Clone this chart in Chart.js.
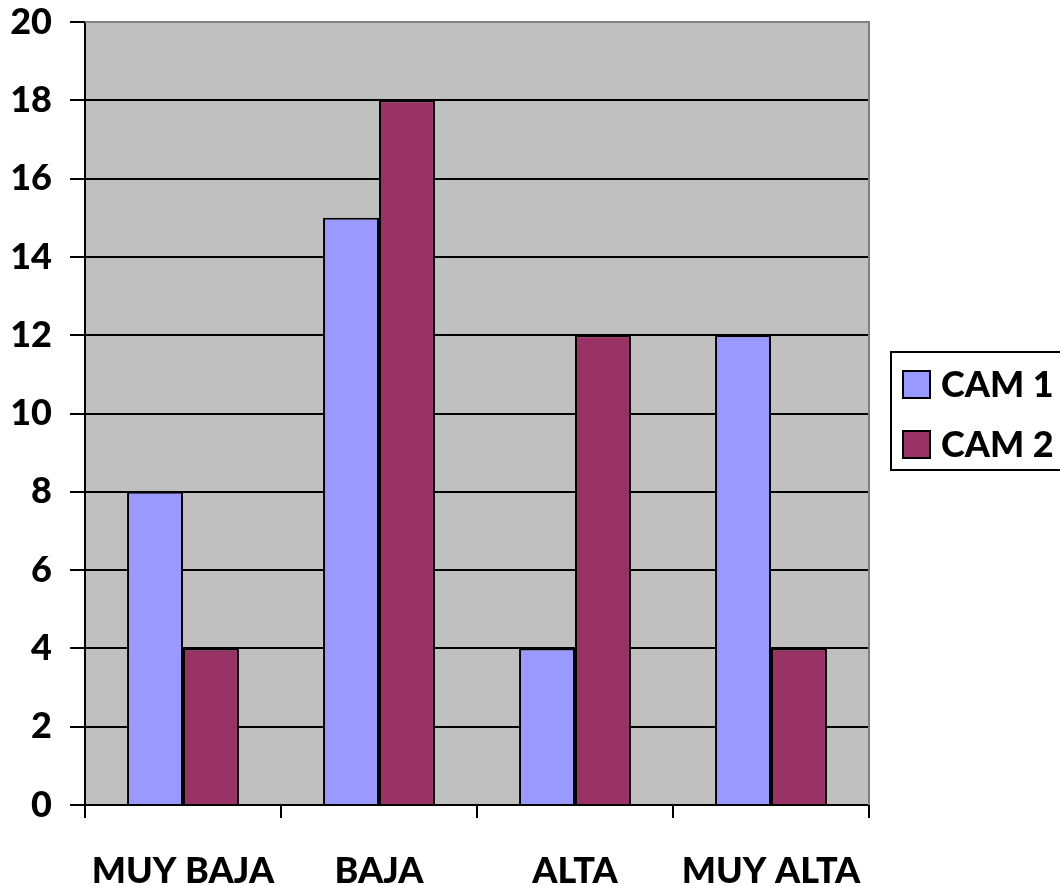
<!DOCTYPE html>
<html>
<head>
<meta charset="utf-8">
<script src="https://cdn.jsdelivr.net/npm/chart.js@4.4.0/dist/chart.umd.min.js"></script>
<style>
  html,body{margin:0;padding:0;background:#fff;}
  #wrap{width:1060px;height:886px;position:relative;}
</style>
</head>
<body>
<div id="wrap"><canvas id="chart" width="1060" height="886"></canvas></div>
<script>
const categories = ["MUY BAJA","BAJA","ALTA","MUY ALTA"];
const seriesNames = ["CAM 1","CAM 2"];
const cam1 = [8,15,4,12];
const cam2 = [4,18,12,4];
const yTicks = [0,2,4,6,8,10,12,14,16,18,20];

const colors = ["#9999FF","#993366"];
const FONT = {family:"Lato, 'Open Sans', sans-serif", size:36, weight:"900"};

// gray plot background + gray top/right frame
const plotBg = {
  id:"plotBg",
  beforeDraw(chart){
    const {ctx, chartArea:a} = chart;
    ctx.save();
    ctx.fillStyle = "#C0C0C0";
    ctx.fillRect(a.left, a.top, a.right-a.left, a.bottom-a.top);
    ctx.restore();
  },
  afterDatasetsDraw(chart){
    const {ctx, chartArea:a} = chart;
    ctx.save();
    ctx.strokeStyle = "#808080"; ctx.lineWidth = 2;
    ctx.beginPath();
    ctx.moveTo(a.left, a.top); ctx.lineTo(a.right, a.top); ctx.lineTo(a.right, a.bottom);
    ctx.stroke();
    ctx.restore();
  }
};

// boxed legend on the right, like the spreadsheet one
const boxLegend = {
  id:"boxLegend",
  afterDraw(chart){
    const {ctx, chartArea:a} = chart;
    const x0 = a.right + 22, y0 = 352, h = 118;
    ctx.save();
    ctx.strokeStyle = "#000"; ctx.lineWidth = 2;
    ctx.strokeRect(x0, y0, 1080 - x0, h);
    ctx.font = `${FONT.weight} ${FONT.size}px ${FONT.family}`;
    ctx.textBaseline = "middle";
    chart.data.datasets.forEach((ds,i)=>{
      const cy = y0 + 32 + i*60;
      ctx.fillStyle = ds.backgroundColor;
      ctx.fillRect(x0+12, cy-13, 27, 27);
      ctx.strokeRect(x0+12, cy-13, 27, 27);
      ctx.fillStyle = "#000";
      ctx.fillText(ds.label, x0+50, cy+1);
    });
    ctx.restore();
  }
};

new Chart(document.getElementById("chart"), {
  type:"bar",
  data:{
    labels:categories,
    datasets:[
      {label:seriesNames[0], data:cam1, backgroundColor:colors[0], borderColor:"#000", borderWidth:2},
      {label:seriesNames[1], data:cam2, backgroundColor:colors[1], borderColor:"#000", borderWidth:2}
    ]
  },
  options:{
    responsive:false,
    animation:false,
    devicePixelRatio:1,
    categoryPercentage:0.571,
    barPercentage:1.0,
    layout:{padding:{left:0, top:22, right:191, bottom:0}},
    plugins:{legend:{display:false}, tooltip:{enabled:false}},
    scales:{
      x:{
        grid:{display:true, drawOnChartArea:false, drawTicks:true, tickLength:13, color:"#000", lineWidth:2, offset:true},
        border:{display:true, color:"#000", width:2},
        ticks:{color:"#000", font:FONT, padding:32, maxRotation:0, autoSkip:false},
        afterFit(s){ s.height = 81; s.paddingLeft = 0; s.paddingRight = 0; }
      },
      y:{
        min:0, max:20,
        afterBuildTicks(s){ s.ticks = yTicks.map(v=>({value:v})); },
        grid:{color:"#000", lineWidth:2, tickLength:15, drawTicks:true},
        border:{display:true, color:"#000", width:2},
        ticks:{color:"#000", font:FONT, padding:18},
        afterFit(s){ s.width = 85; s.paddingTop = 0; s.paddingBottom = 0; }
      }
    }
  },
  plugins:[plotBg, boxLegend]
});
</script>
</body>
</html>
